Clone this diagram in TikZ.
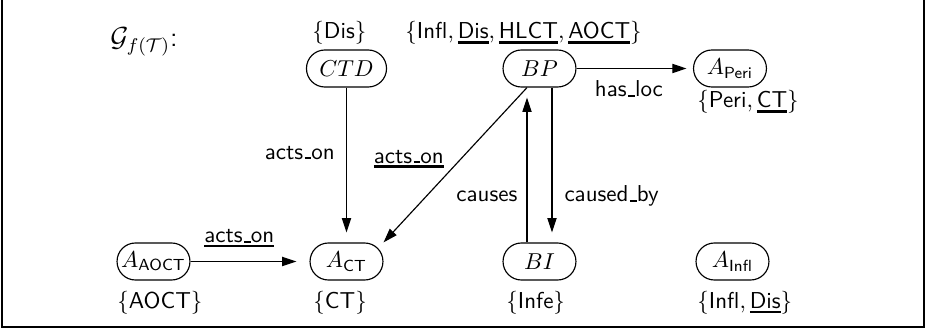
\documentclass[tikz,border=0pt]{standalone}
\usepackage{amstext}
\usetikzlibrary{arrows.meta,calc}
% thick underline set a little below the baseline
\newcommand\thickul[1]{\vtop{\hbox{#1}\kern0.8pt\hrule height1.05pt}}
% short low bar used inside relation names
\newcommand\usc{\leavevmode\kern.06em\vbox{\hrule width.3em height0.8pt}}
\begin{document}
\begin{tikzpicture}[x=0.4348pt,y=-0.4348pt,
  every node/.style={font=\sffamily},
  state/.style={draw, line width=0.5pt, rounded corners=8pt,
    minimum width=31.7pt, minimum height=16.1pt, inner sep=0pt},
  rel/.style={-{Triangle[length=6.2pt,width=4pt]}, line width=0.5pt},
  lbl/.style={inner sep=0pt},
  setlbl/.style={inner sep=0pt, anchor=base west}]
\useasboundingbox (0,0) rectangle (928,331);
% open frame
\draw[line width=1.15pt] (2,0) -- (2,327) -- (924,327) -- (924,0);

\node[setlbl, font=\sffamily\large] (title) at (110,47) {$\mathcal{G}_{f(\mathcal{T})}$:};

% states
\node[state, minimum width=34.8pt] (ctd) at (346.5,68.5) {$CTD$};
\node[state] (bp)    at (539.5,68.5) {$BP$};
\node[state] (aperi) at (730,68.5)   {$A_{\textsf{Peri}}$};
\node[state] (aaoct) at (153.5,261.5) {$A_{\textsf{AOCT}}$};
\node[state] (act)   at (346.5,261.5) {$A_{\textsf{CT}}$};
\node[state] (bi)    at (539.5,261.5) {$BI$};
\node[state] (ainfl) at (732.5,261.5) {$A_{\textsf{Infl}}$};

% attribute sets
\node[setlbl] (sctd)  at (312,39)  {$\{\textsf{Dis}\}$};
\node[setlbl] (sbp)   at (405,39)  {$\{\textsf{Infl}, \thickul{Dis}, \thickul{HLCT}, \thickul{AOCT}\}$};
\node[setlbl] (speri) at (697,108) {$\{\textsf{Peri}, \thickul{CT}\}$};
\node[setlbl] (saoct) at (117,308.5) {$\{\textsf{AOCT}\}$};
\node[setlbl] (sct)   at (313,308.5) {$\{\textsf{CT}\}$};
\node[setlbl] (sbi)   at (506,308.5) {$\{\textsf{Infe}\}$};
\node[setlbl] (sinfl) at (697,308.5) {$\{\textsf{Infl}, \thickul{Dis}\}$};

% relations
\draw[rel, shorten >=4.35pt] (ctd) -- (act)
  node[lbl, pos=0.42, left=4.8pt] (l1) {acts\usc on};
\draw[rel] ([xshift=-5.43pt]bp.south) -- (act.north east)
  node[lbl, pos=0.46, left=7.2pt] (l2) {\thickul{acts\usc on}};
\draw[rel, shorten >=5.65pt] (aaoct) -- (act)
  node[lbl, pos=0.41, above=5.9pt] (l3) {\thickul{acts\usc on}};
\draw[rel, shorten >=4.35pt] ([xshift=-5.43pt]bi.north) -- ([xshift=-5.43pt]bp.south)
  node[lbl, pos=0.3, left=3.9pt] (l4) {causes};
\draw[rel, shorten >=4.35pt] ([xshift=5.43pt]bp.south) -- ([xshift=5.43pt]bi.north)
  node[lbl, pos=0.7, right=5.2pt] (l5) {caused\usc by};
\draw[rel, shorten >=2.8pt] (bp) -- (aperi)
  node[lbl, pos=0.45, below=5.2pt] (l6) {has\usc loc};
\end{tikzpicture}
\end{document}
